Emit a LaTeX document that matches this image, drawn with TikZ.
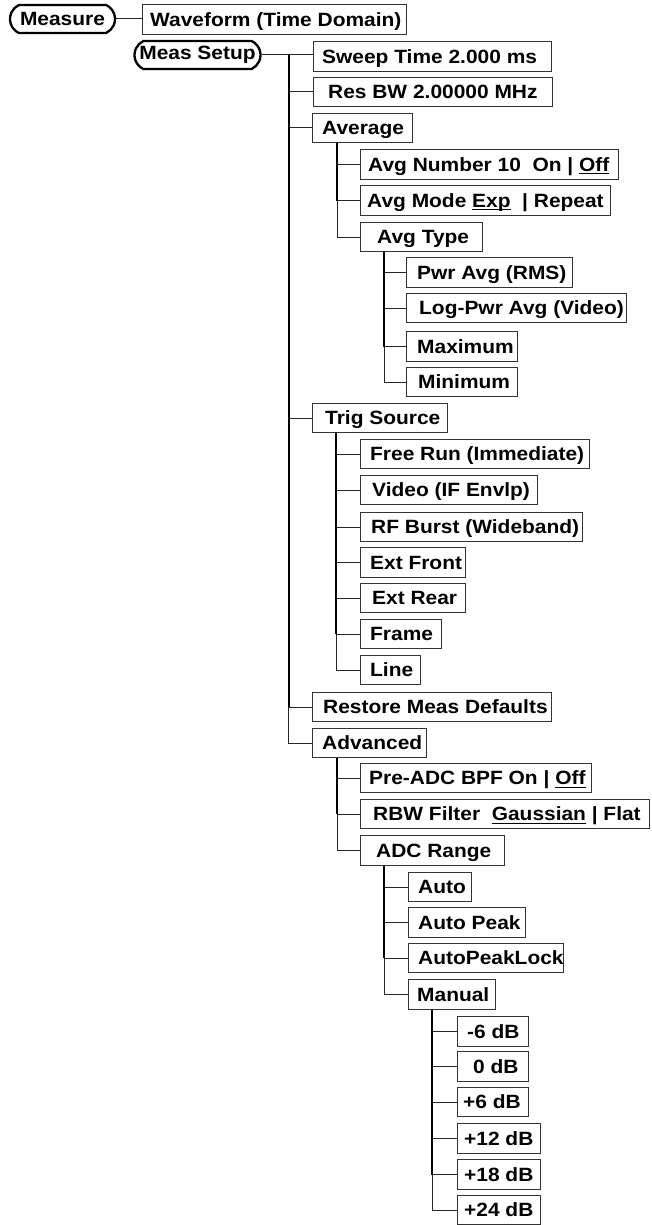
\documentclass[tikz,border=0pt]{standalone}
\usepackage{fontspec}
\usetikzlibrary{shapes.misc}
\newfontfamily\lbfam{Liberation Sans}[FakeStretch=1.09]
\newcommand\lbf{\lbfam\bfseries\fontsize{19.2}{21}\selectfont}
\newcommand\ulx[1]{\setbox0\hbox{#1}\rlap{\rule[-2.8pt]{\wd0}{1.1pt}}\box0\relax}
\newcommand\menubox[6]{%
  \node[bx, minimum width={#3-#2}] (#1) at (#2,#4) {};
  \node[lbl] at (#5,#4+6.9) {#6};}
\tikzset{
  bx/.style={draw=black!80, line width=1.1pt, minimum height=29.5pt, inner sep=0pt, anchor=west},
  lbl/.style={anchor=base west, inner sep=0pt, font=\lbf},
  pill/.style={draw, line width=2.3pt, rounded rectangle, rounded rectangle arc length=130,
    inner sep=0pt, font=\lbf, minimum height=28pt},
  trunk/.style={line width=1.9pt},
  branch/.style={line width=1pt, draw=black!85},
}
\begin{document}
\begin{tikzpicture}[x=1pt,y=-1pt]
\useasboundingbox (0,0) rectangle (651,1225);
% roots
\node[pill, minimum width=105pt] (measure) at (62.5,19) {Measure};
\node[pill, minimum width=126pt] (meassetup) at (197.5,55) {Meas Setup};
\node[bx, minimum width=264pt, minimum height=30.5pt] (wave) at (142,19.5) {};
\node[lbl] at (150,26.4) {Waveform (Time Domain)};
% level 1
\menubox{sweep}{313}{551}{56.5}{322}{Sweep Time 2.000 ms}
\menubox{resbw}{313}{552}{92}{328}{Res BW 2.00000 MHz}
\menubox{avg}{312}{412}{128}{322}{Average}
\menubox{trig}{312}{447}{418}{325}{Trig Source}
\menubox{restore}{312}{551}{707}{323}{Restore Meas Defaults}
\menubox{adv}{312}{426}{743}{322}{Advanced}
% average
\menubox{anum}{360}{618}{164.5}{368}{Avg Number 10\ \ On | \ulx{Off}}
\menubox{amode}{360}{610}{200.5}{367}{Avg Mode \ulx{Exp}\ \ | Repeat}
\menubox{atype}{360}{482}{237}{377}{Avg Type}
\menubox{pwr}{406}{572}{272.5}{417}{Pwr Avg (RMS)}
\menubox{logpwr}{406}{626}{308}{419}{Log-Pwr Avg (Video)}
\menubox{maxi}{406}{517}{346.5}{417}{Maximum}
\menubox{mini}{406}{517}{382}{418}{Minimum}
% trig source
\menubox{free}{360}{589}{454}{370}{Free Run (Immediate)}
\menubox{video}{360}{537}{490}{372}{Video (IF Envlp)}
\menubox{rfb}{360}{582}{527}{371}{RF Burst (Wideband)}
\menubox{extf}{360}{465}{562.5}{370}{Ext Front}
\menubox{extr}{360}{465}{598}{372}{Ext Rear}
\menubox{frame}{360}{441}{634}{370}{Frame}
\menubox{linebox}{360}{420}{670}{370}{Line}
% advanced
\menubox{preadc}{360}{591}{778}{369}{Pre-ADC BPF On | \ulx{Off}}
\menubox{rbw}{360}{649}{814}{373}{RBW Filter\ \ \ulx{Gaussian} | Flat}
\menubox{adcr}{360}{504}{850.5}{376}{ADC Range}
\menubox{auto}{408}{471}{887}{418}{Auto}
\menubox{apeak}{408}{525}{922.5}{418}{Auto Peak}
\menubox{apl}{408}{563}{958}{418}{AutoPeakLock}
\menubox{manual}{408}{495}{994.5}{417}{Manual}
\menubox{m6}{457}{528}{1031.5}{467}{-6 dB}
\menubox{z0}{457}{528}{1066.5}{473}{0 dB}
\menubox{p6}{457}{528}{1102}{463}{+6 dB}
\menubox{p12}{457}{540}{1138.5}{464}{+12 dB}
\menubox{p18}{457}{540}{1174.5}{464}{+18 dB}
\menubox{p24}{457}{540}{1210}{464}{+24 dB}
% connectors
\draw[branch] (measure.east) -- (measure.east -| wave.west);
\draw[branch] (meassetup.east) -- (meassetup.east -| sweep.west);
\path (meassetup.east) ++(27,0) coordinate (t0);
\draw[trunk] (t0) -- (t0 |- restore.west);
\draw[branch] (t0 |- restore.west) |- (adv.west);
\foreach \n in {resbw,avg,trig,restore} \draw[branch] (t0 |- \n.west) -- (\n.west);
% average
\path (avg.south west) ++(25,0) coordinate (t1);
\draw[trunk] (t1) -- (t1 |- amode.west);
\draw[branch] (t1 |- amode.west) |- (atype.west);
\foreach \n in {anum,amode} \draw[branch] (t1 |- \n.west) -- (\n.west);
% avg type
\path (atype.south west) ++(24,0) coordinate (t2);
\draw[trunk] (t2) -- (t2 |- maxi.west);
\draw[branch] (t2 |- maxi.west) |- (mini.west);
\foreach \n in {pwr,logpwr,maxi} \draw[branch] (t2 |- \n.west) -- (\n.west);
% trig
\path (trig.south west) ++(24,0) coordinate (t3);
\draw[trunk] (t3) -- (t3 |- frame.west);
\draw[branch] (t3 |- frame.west) |- (linebox.west);
\foreach \n in {free,video,rfb,extf,extr,frame} \draw[branch] (t3 |- \n.west) -- (\n.west);
% advanced
\path (adv.south west) ++(25,0) coordinate (t4);
\draw[trunk] (t4) -- (t4 |- rbw.west);
\draw[branch] (t4 |- rbw.west) |- (adcr.west);
\foreach \n in {preadc,rbw} \draw[branch] (t4 |- \n.west) -- (\n.west);
% adc range
\path (adcr.south west) ++(24,0) coordinate (t5);
\draw[trunk] (t5) -- (t5 |- apl.west);
\draw[branch] (t5 |- apl.west) |- (manual.west);
\foreach \n in {auto,apeak,apl} \draw[branch] (t5 |- \n.west) -- (\n.west);
% manual
\path (manual.south west) ++(24,0) coordinate (t6);
\draw[trunk] (t6) -- (t6 |- p18.west);
\draw[branch] (t6 |- p18.west) |- (p24.west);
\foreach \n in {m6,z0,p6,p12,p18} \draw[branch] (t6 |- \n.west) -- (\n.west);
\end{tikzpicture}
\end{document}
